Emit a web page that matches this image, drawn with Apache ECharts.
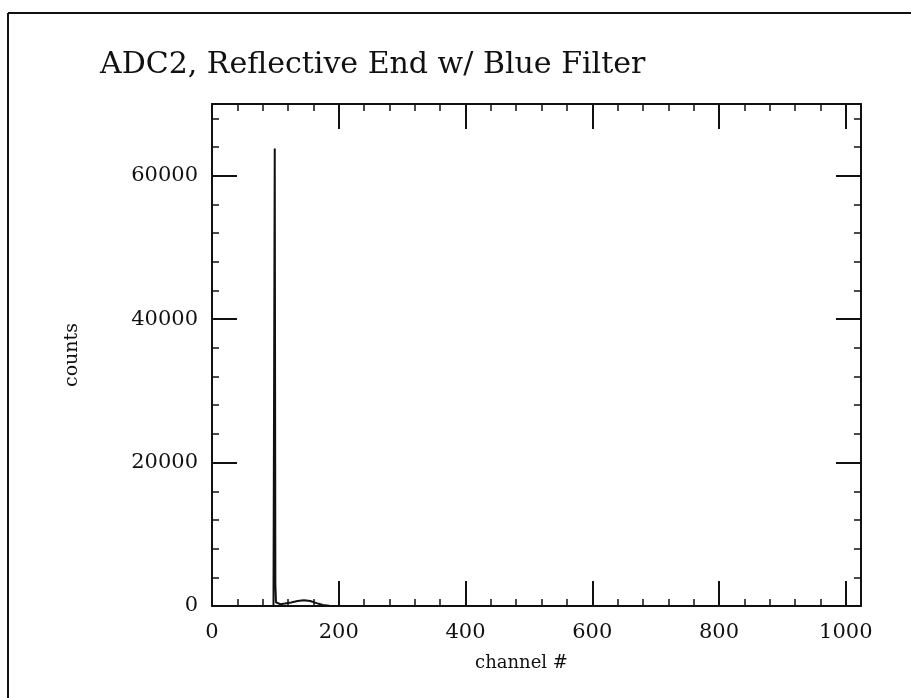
<!DOCTYPE html>
<html>
<head>
<meta charset="utf-8">
<script src="https://cdn.jsdelivr.net/npm/echarts@6/dist/echarts.min.js"></script>
<style>
  html, body { margin: 0; padding: 0; background: #fff; }
  #main { width: 911px; height: 698px; }
</style>
</head>
<body>
<div id="main"></div>
<script>
// channel number vs counts
const channels = [0, 97, 98, 99, 100, 101, 103, 108, 115, 125, 135, 145, 155, 165, 175, 185, 200, 1024];
const counts   = [0, 0, 200, 63800, 3000, 500, 300, 250, 350, 500, 700, 800, 700, 400, 150, 50, 0, 0];
const xTicks = [0, 200, 400, 600, 800, 1000];
const yTicks = [0, 20000, 40000, 60000];

const font = 'DejaVu Serif';
const myChart = echarts.init(document.getElementById('main'));

const option = {
  backgroundColor: '#fff',
  animation: false,
  title: {
    text: 'ADC2, Reflective End w/ Blue Filter',
    left: 95,
    top: 45,
    textStyle: { fontFamily: font, fontSize: 30, fontWeight: 'normal', color: '#111' }
  },
  grid: { left: 212, right: 50, top: 104, bottom: 92 },
  xAxis: [{
    type: 'value',
    min: 0,
    max: 1024,
    interval: 200,
    name: 'channel #',
    nameLocation: 'middle',
    nameGap: 48,
    nameTextStyle: { fontFamily: font, fontSize: 18, color: '#111', padding: [0, 30, 0, 0] },
    axisLine: { show: true, onZero: false, lineStyle: { color: '#111', width: 2 } },
    axisTick: { inside: true, length: 25, lineStyle: { color: '#111', width: 2 } },
    minorTick: { show: true, splitNumber: 5, length: 7, lineStyle: { color: '#111', width: 1.5 } },
    splitLine: { show: false },
    axisLabel: {
      showMaxLabel: false, margin: 16,
      fontFamily: font, fontSize: 21, color: '#111',
      formatter: v => (xTicks.indexOf(v) >= 0 ? String(v) : '')
    }
  }, {
    type: 'value',
    position: 'top',
    min: 0,
    max: 1024,
    interval: 200,
    axisLine: { show: true, onZero: false, lineStyle: { color: '#111', width: 2 } },
    axisTick: { inside: true, length: 25, lineStyle: { color: '#111', width: 2 } },
    minorTick: { show: true, splitNumber: 5, length: 7, lineStyle: { color: '#111', width: 1.5 } },
    splitLine: { show: false },
    axisLabel: { show: false }
  }],
  yAxis: [{
    type: 'value',
    min: 0,
    max: 70000,
    interval: 20000,
    name: 'counts',
    nameLocation: 'middle',
    nameGap: 130,
    nameRotate: 90,
    nameTextStyle: { fontFamily: font, fontSize: 19, color: '#111' },
    axisLine: { show: true, onZero: false, lineStyle: { color: '#111', width: 2 } },
    axisTick: { inside: true, length: 25, lineStyle: { color: '#111', width: 2 } },
    minorTick: { show: true, splitNumber: 5, length: 7, lineStyle: { color: '#111', width: 1.5 } },
    splitLine: { show: false },
    axisLabel: {
      showMaxLabel: false, margin: 14,
      fontFamily: font, fontSize: 21, color: '#111',
      formatter: v => (yTicks.indexOf(v) >= 0 ? String(v) : '')
    }
  }, {
    type: 'value',
    position: 'right',
    min: 0,
    max: 70000,
    interval: 20000,
    axisLine: { show: true, onZero: false, lineStyle: { color: '#111', width: 2 } },
    axisTick: { inside: true, length: 25, lineStyle: { color: '#111', width: 2 } },
    minorTick: { show: true, splitNumber: 5, length: 7, lineStyle: { color: '#111', width: 1.5 } },
    splitLine: { show: false },
    axisLabel: { show: false }
  }],
  graphic: [
    // scanned page frame
    { type: 'line', shape: { x1: 8, y1: 13, x2: 911, y2: 13 }, style: { stroke: '#111', lineWidth: 2 } },
    { type: 'line', shape: { x1: 8, y1: 13, x2: 8, y2: 698 }, style: { stroke: '#111', lineWidth: 2 } }
  ],
  series: [{
    type: 'line',
    data: channels.map((c, i) => [c, counts[i]]),
    showSymbol: false,
    lineStyle: { color: '#111', width: 2 },
    xAxisIndex: 0,
    yAxisIndex: 0
  }]
};
myChart.setOption(option);
</script>
</body>
</html>
